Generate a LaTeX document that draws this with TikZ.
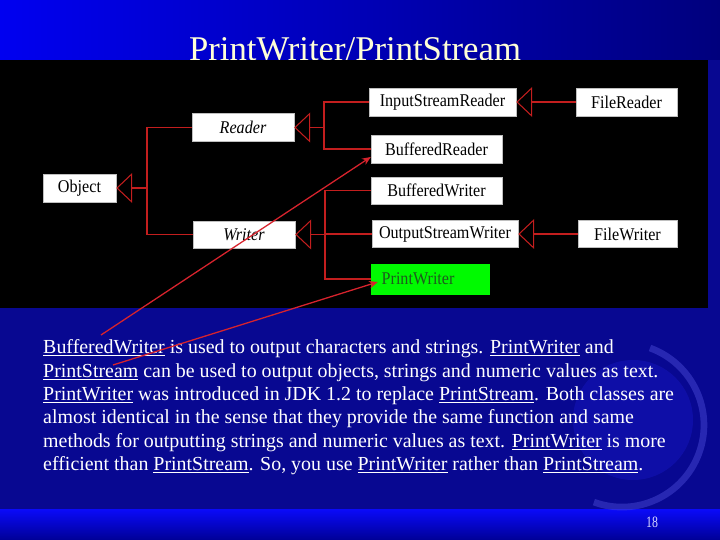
\documentclass[tikz,border=0pt]{standalone}
\usepackage{fontspec}
\setmainfont{Liberation Serif}
\newfontfamily\boxfont[FakeStretch=0.9]{Liberation Serif}
\newfontfamily\bodyfont{Liberation Serif}
\newfontfamily\numfont[FakeStretch=0.75]{Liberation Serif}
\usetikzlibrary{arrows.meta,calc}
\definecolor{navy}{RGB}{8,8,145}
\definecolor{topleft}{RGB}{0,0,240}
\definecolor{topright}{RGB}{0,0,125}
\definecolor{bandtop}{RGB}{10,10,250}
\definecolor{bandbot}{RGB}{0,0,150}
\definecolor{cream}{RGB}{255,255,215}
\definecolor{linkred}{RGB}{195,30,30}
\definecolor{notered}{RGB}{215,35,45}
\definecolor{pwgreen}{RGB}{0,250,0}
\definecolor{pwtext}{RGB}{30,90,30}
\definecolor{globeblue}{RGB}{25,25,200}
\tikzset{
  cls/.style 2 args={draw=gray!50, fill=white, inner sep=0pt,
    minimum width=#1*0.03cm, minimum height=#2*0.03cm,
    font=\boxfont\fontsize{15.3}{16}\selectfont},
  gen/.style={draw=linkred, line width=0.9pt},
  inh/.style={-{Triangle[open,length=0.48cm,width=0.9cm]}},
  note/.style={draw=notered, line width=1.1pt, -{Stealth[length=2.6mm,width=2.2mm]}},
}
\begin{document}
\begin{tikzpicture}[x=0.03cm, y=-0.03cm]
\useasboundingbox (0,0) rectangle (720,540);
% slide background
\shade[left color=topleft, right color=topright] (0,0) rectangle (720,60);
\fill[navy] (0,60) rectangle (720,509);
\shade[top color=bandtop, bottom color=bandbot] (0,509) rectangle (720,540);
% globe
\fill[globeblue, opacity=0.4] (633,420) circle[radius=60];
\draw[globeblue!80!white, opacity=0.5, line width=0.2cm]
  (650,348) arc[start angle=-70, end angle=110, radius=82];
\node[anchor=base, text=cream, font=\fontsize{29.6}{30}\selectfont] (title)
  at (355,60.5) {PrintWriter/PrintStream};
% diagram panel
\fill[black] (0,60) rectangle (708,308);

\node[cls={73}{28}] (obj) at (79.5,188) {Object};
\node[cls={102}{28}, font=\boxfont\itshape\fontsize{15.3}{16}\selectfont] (rdr) at (243,127.5) {Reader};
\node[cls={102}{27}, font=\boxfont\itshape\fontsize{15.3}{16}\selectfont] (wtr) at (244,234.5) {Writer};
\node[cls={147}{28}] (isr) at (442.5,102) {InputStreamReader};
\node[cls={101}{28}] (frd) at (626.5,102) {FileReader};
\node[cls={131}{28}] (brd) at (436.5,149) {BufferedReader};
\node[cls={131}{27}] (bwr) at (436.5,190.5) {BufferedWriter};
\node[cls={146}{27}] (osw) at (445,234) {OutputStreamWriter};
\node[cls={99}{27}] (fwr) at (627.5,234) {FileWriter};
\node[cls={118}{30}, fill=pwgreen, draw=pwgreen, text=pwtext,
  text width=2.9cm, align=left, inner xsep=0.27cm] (pwr) at (430,279) {\raisebox{1.5pt}{PrintWriter}};

\coordinate (otrunk) at (147,188);
\coordinate (rtrunk) at (324,127.5);
\coordinate (wtrunk) at (325,234.5);

\draw[gen] (rdr.west) -| (otrunk) |- (wtr.west);
\draw[gen, inh] (otrunk) -- (obj.east);
\draw[gen] (isr.west) -| (rtrunk) |- (brd.west);
\draw[gen, inh] (rtrunk) -- (rdr.east);
\draw[gen] (bwr.west) -| (wtrunk) |- (pwr.west);
\draw[gen] (osw.west) -- (osw.west -| wtrunk);
\draw[gen, inh] (wtrunk) -- (wtr.east);
\draw[gen, inh] (frd.west) -- (isr.east);
\draw[gen, inh] (fwr.west) -- (osw.east);

% explanation
\node[anchor=north west, inner sep=0pt, align=left, text=white,
  font=\bodyfont\fontsize{17}{19.9}\selectfont] (para) at (43,339.5)
{\underline{BufferedWriter} is used to output characters and strings. \underline{PrintWriter} and\\
\underline{PrintStream} can be used to output objects, strings and numeric values as text.\\
\underline{PrintWriter} was introduced in JDK 1.2 to replace \underline{PrintStream}. Both classes are\\
almost identical in the sense that they provide the same function and same\\
methods for outputting strings and numeric values as text. \underline{PrintWriter} is more\\
efficient than \underline{PrintStream}. So, you use \underline{PrintWriter} rather than \underline{PrintStream}.};
\node[anchor=base, text=blue!15!white, font=\numfont\fontsize{13.5}{14}\selectfont] (pageno)
  at (652,527.5) {18};

\coordinate (bwword) at (101,335);
\coordinate (psword) at (113,365);
\draw[note] (bwword) -- ([yshift=-0.24cm]brd.west);
\draw[note] (psword) -- ([xshift=0.21cm,yshift=-0.09cm]pwr.west);
\end{tikzpicture}
\end{document}
